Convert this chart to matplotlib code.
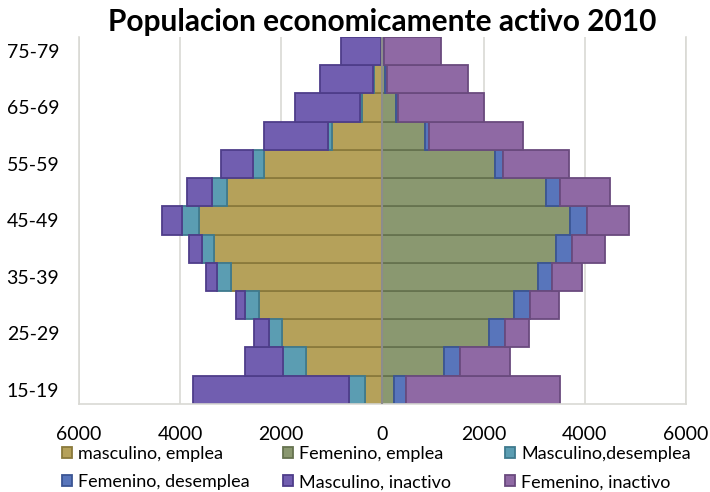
import matplotlib

matplotlib.use("Agg")
import matplotlib.pyplot as plt
from matplotlib.patches import Patch
from matplotlib.ticker import FuncFormatter

plt.rcParams["font.family"] = ["Lato", "DejaVu Sans"]

age_groups = ["15-19", "20-24", "25-29", "30-34", "35-39", "40-44", "45-49",
              "50-54", "55-59", "60-64", "65-69", "70-74", "75-79"]

masc_emplea = [350, 1500, 1990, 2440, 3000, 3320, 3620, 3070, 2340, 990, 410, 160, 30]
masc_desemplea = [300, 470, 250, 265, 265, 250, 345, 290, 225, 80, 40, 20, 5]
masc_inactivo = [3100, 745, 305, 180, 220, 245, 385, 500, 620, 1270, 1270, 1060, 780]

fem_emplea = [240, 1210, 2110, 2610, 3080, 3430, 3715, 3240, 2230, 845, 265, 60, 20]
fem_desemplea = [225, 330, 315, 315, 275, 315, 330, 275, 150, 85, 40, 30, 10]
fem_inactivo = [3055, 990, 475, 570, 595, 660, 830, 990, 1315, 1850, 1710, 1595, 1130]

colors = {
    "me": ("#b5a15a", "#8a7a3c"),
    "fe": ("#8a9870", "#66734f"),
    "md": ("#5b9db2", "#3f7a8e"),
    "fd": ("#5875bb", "#3b5594"),
    "mi": ("#715eb0", "#4e3d8a"),
    "fi": ("#8f69a4", "#6a4a7e"),
}
labels = {
    "me": "masculino, emplea",
    "fe": "Femenino, emplea",
    "md": "Masculino,desemplea",
    "fd": "Femenino, desemplea",
    "mi": "Masculino, inactivo",
    "fi": "Femenino, inactivo",
}


def bar(ax, y, width, left, key):
    face, edge = colors[key]
    ax.barh(y, width, left=left, height=1.0, color=face, edgecolor=edge, linewidth=1.3, zorder=2)


fig = plt.figure(figsize=(7.1, 4.92), dpi=100)
ax = fig.add_axes([0.111, 0.179, 0.855, 0.746])

y = list(range(len(age_groups)))
neg_me = [-v for v in masc_emplea]
neg_md = [-v for v in masc_desemplea]
neg_mi = [-v for v in masc_inactivo]
left_mi = [a + b for a, b in zip(neg_me, neg_md)]
bar(ax, y, neg_me, 0, "me")
bar(ax, y, neg_md, neg_me, "md")
bar(ax, y, neg_mi, left_mi, "mi")

left_fi = [a + b for a, b in zip(fem_emplea, fem_desemplea)]
bar(ax, y, fem_emplea, 0, "fe")
bar(ax, y, fem_desemplea, fem_emplea, "fd")
bar(ax, y, fem_inactivo, left_fi, "fi")

ax.axvline(0, color="#8c8c8c", linewidth=1.5, zorder=3)
ax.set_xlim(-6000, 6000)
ax.set_ylim(-0.5, len(age_groups) - 0.5)
ax.set_xticks(range(-6000, 6001, 2000))
ax.xaxis.set_major_formatter(FuncFormatter(lambda v, _: f"{abs(int(v))}"))
ax.set_yticks(y[::2], age_groups[::2])
ax.tick_params(axis="both", length=0, labelsize=14)
ax.tick_params(axis="x", pad=16)
ax.tick_params(axis="y", pad=14)
ax.grid(axis="x", color="#d9d9d4", linewidth=1.2, zorder=0)
ax.set_axisbelow(True)
for side in ["left", "right", "bottom", "top"]:
    ax.spines[side].set_color("#d9d9d4")
    ax.spines[side].set_linewidth(1.2)
ax.spines["top"].set_visible(False)

ax.set_title("Populacion economicamente activo 2010", fontsize=21.5, fontweight="bold", pad=4)

# one legend per column so the columns sit at fixed x positions
columns = [("me", "fd"), ("fe", "mi"), ("md", "fi")]
col_x = [62, 283, 505]
for keys, x0 in zip(columns, col_x):
    handles = [Patch(facecolor=colors[k][0], edgecolor=colors[k][1], linewidth=1.3, label=labels[k])
               for k in keys]
    fig.legend(handles=handles, loc="center left", bbox_to_anchor=(x0 / 710, 1 - 468 / 492),
               frameon=False, fontsize=13, handlelength=0.55, handleheight=0.55,
               handletextpad=0.35, labelspacing=0.7, borderpad=0, borderaxespad=0)

fig.savefig("out.png", dpi=100)
